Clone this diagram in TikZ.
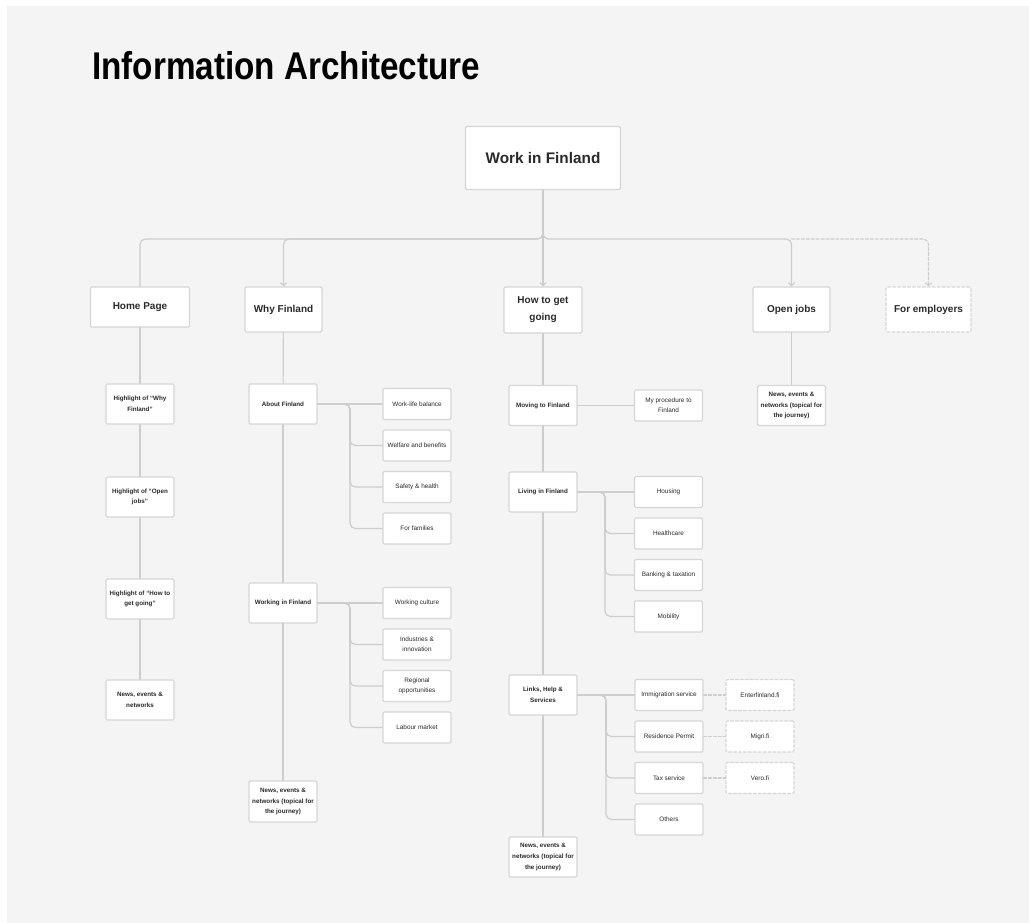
\documentclass[tikz,border=0pt]{standalone}
\usepackage{fontspec}
\usepackage{graphicx}
\setmainfont{Liberation Sans}
\usetikzlibrary{arrows.meta}
\definecolor{canvas}{HTML}{F4F4F4}
\definecolor{edge}{HTML}{CDCDCD}
\definecolor{frame}{HTML}{D6D6D6}
\definecolor{ink}{HTML}{2A2A2A}
\tikzset{
  box/.style={draw=frame,line width=0.9pt,fill=white,rounded corners=1pt,inner sep=0pt,align=center,text=ink},
  rootbox/.style={box,minimum width=116.25pt,minimum height=47.25pt,font=\fontsize{11.5}{14}\selectfont\bfseries},
  topbox/.style={box,minimum height=33.75pt,font=\fontsize{7.5}{12.75}\selectfont\bfseries},
  midbox/.style={box,minimum width=51pt,minimum height=30pt,font=\fontsize{4.7}{7.9}\selectfont\bfseries},
  leafbox/.style={box,minimum width=51pt,minimum height=23.25pt,font=\fontsize{4.8}{7.5}\selectfont},
  linkbox/.style={leafbox,dash pattern=on 2.2pt off 1.5pt},
  conn/.style={draw=edge,line width=0.9pt},
  linkconn/.style={conn,dash pattern=on 2.2pt off 1.5pt},
}
\begin{document}
\begin{tikzpicture}[x=0.75pt,y=-0.75pt,>={Straight Barb[length=2.2pt,width=4.6pt]},line cap=round,line join=round]
	\useasboundingbox (0,0) rectangle (1029,923);
	\fill[white] (0,0) rectangle (1029,923);
	\fill[canvas] (7,6) rectangle (1029,923);
	\node[anchor=base west,text=black,inner sep=0pt,font=\fontsize{29}{34}\selectfont\bfseries] (title) at (92,80) {\scalebox{0.86}[1]{Information Architecture}};
	% top levels
	\node[rootbox] (root) at (543,158) {Work in Finland};
	\node[topbox,minimum width=74.25pt,minimum height=30pt] (home) at (140,307) {Home Page};
	\node[topbox,minimum width=57.75pt] (why) at (283.5,309.5) {Why Finland};
	\node[topbox,minimum width=58.5pt,minimum height=34.5pt] (going) at (543,310) {How to get\\going};
	\node[topbox,minimum width=57.75pt] (jobs) at (791.5,309.5) {Open jobs};
	\node[topbox,minimum width=63.75pt,dash pattern=on 2.2pt off 1.5pt] (employers) at (928.5,309.5) {For employers};
	% home page column
	\node[midbox] (hlwhy) at (140,404) {Highlight of “Why\\Finland”};
	\node[midbox] (hljobs) at (140,497) {Highlight of “Open\\jobs”};
	\node[midbox] (hlgoing) at (140,599) {Highlight of “How to\\get going”};
	\node[midbox] (homenews) at (140,700) {News, events \&\\networks};
	% why finland column
	\node[midbox] (about) at (283,404) {About Finland};
	\node[midbox] (working) at (283,603) {Working in Finland};
	\node[midbox,minimum height=30.75pt] (whynews) at (283,801.5) {News, events \&\\networks (topical for\\the journey)};
	\node[leafbox] (worklife) at (417,404) {Work-life balance};
	\node[leafbox] (welfare) at (417,445.5) {Welfare and benefits};
	\node[leafbox] (safety) at (417,487) {Safety \& health};
	\node[leafbox] (families) at (417,528.5) {For families};
	\node[leafbox] (culture) at (417,603) {Working culture};
	\node[leafbox] (industries) at (417,644.5) {Industries \&\\innovation};
	\node[leafbox] (regional) at (417,686) {Regional\\opportunities};
	\node[leafbox] (labour) at (417,727.5) {Labour market};
	% how to get going column
	\node[midbox] (moving) at (543,405.5) {Moving to Finland};
	\node[midbox] (living) at (543,492) {Living in Finland};
	\node[midbox] (links) at (543,695) {Links, Help \&\\Services};
	\node[midbox] (goingnews) at (543,857) {News, events \&\\networks (topical for\\the journey)};
	\node[leafbox] (procedure) at (668.5,405.5) {My procedure to\\Finland};
	\node[leafbox] (housing) at (668.5,492) {Housing};
	\node[leafbox] (health) at (668.5,533.5) {Healthcare};
	\node[leafbox] (banking) at (668.5,575) {Banking \& taxation};
	\node[leafbox] (mobility) at (668.5,616.5) {Mobility};
	\node[leafbox] (immigration) at (669,695) {Immigration service};
	\node[leafbox] (residence) at (669,736.5) {Residence Permit};
	\node[leafbox] (tax) at (669,778) {Tax service};
	\node[leafbox] (others) at (669,819.5) {Others};
	\node[linkbox] (enter) at (760,695) {Enterfinland.fi};
	\node[linkbox] (migri) at (760,736.5) {Migri.fi};
	\node[linkbox] (vero) at (760,778) {Vero.fi};
	% open jobs column
	\node[midbox] (jobsnews) at (791.5,405.5) {News, events \&\\networks (topical for\\the journey)};
	% connectors from the root
	\coordinate (bus) at (543,239);
	\draw[conn,->] (root) -- (going);
	\draw[conn,rounded corners=4pt] (root.south) |- (home.north |- bus) -- (home.north);
	\draw[conn,->,rounded corners=4pt] (root.south) |- (why.north |- bus) -- (why.north);
	\draw[conn,->,rounded corners=4pt] (root.south) |- (jobs.north |- bus) -- (jobs.north);
	\draw[linkconn,->,rounded corners=4pt] (jobs.north |- bus) -| (employers.north);
	% columns
	\foreach \a/\b in {home/hlwhy,hlwhy/hljobs,hljobs/hlgoing,hlgoing/homenews,why/about,about/working,working/whynews,going/moving,moving/living,living/links,links/goingnews,jobs/jobsnews}
		\draw[conn] (\a) -- (\b);
	% forks
	\coordinate (aboutfork) at (350,404);
	\coordinate (workingfork) at (350,603);
	\coordinate (livingfork) at (605,492);
	\coordinate (linksfork) at (606,695);
	\draw[conn] (about) -- (worklife);
	\foreach \c in {welfare,safety,families}
		\draw[conn,rounded corners=4pt] (about.east) -| (aboutfork |- \c.west) -- (\c.west);
	\draw[conn] (working) -- (culture);
	\foreach \c in {industries,regional,labour}
		\draw[conn,rounded corners=4pt] (working.east) -| (workingfork |- \c.west) -- (\c.west);
	\draw[conn] (moving) -- (procedure);
	\draw[conn] (living) -- (housing);
	\foreach \c in {health,banking,mobility}
		\draw[conn,rounded corners=4pt] (living.east) -| (livingfork |- \c.west) -- (\c.west);
	\draw[conn] (links) -- (immigration);
	\foreach \c in {residence,tax,others}
		\draw[conn,rounded corners=4pt] (links.east) -| (linksfork |- \c.west) -- (\c.west);
	\draw[linkconn] (immigration) -- (enter);
	\draw[linkconn] (residence) -- (migri);
	\draw[linkconn] (tax) -- (vero);
\end{tikzpicture}
\end{document}
